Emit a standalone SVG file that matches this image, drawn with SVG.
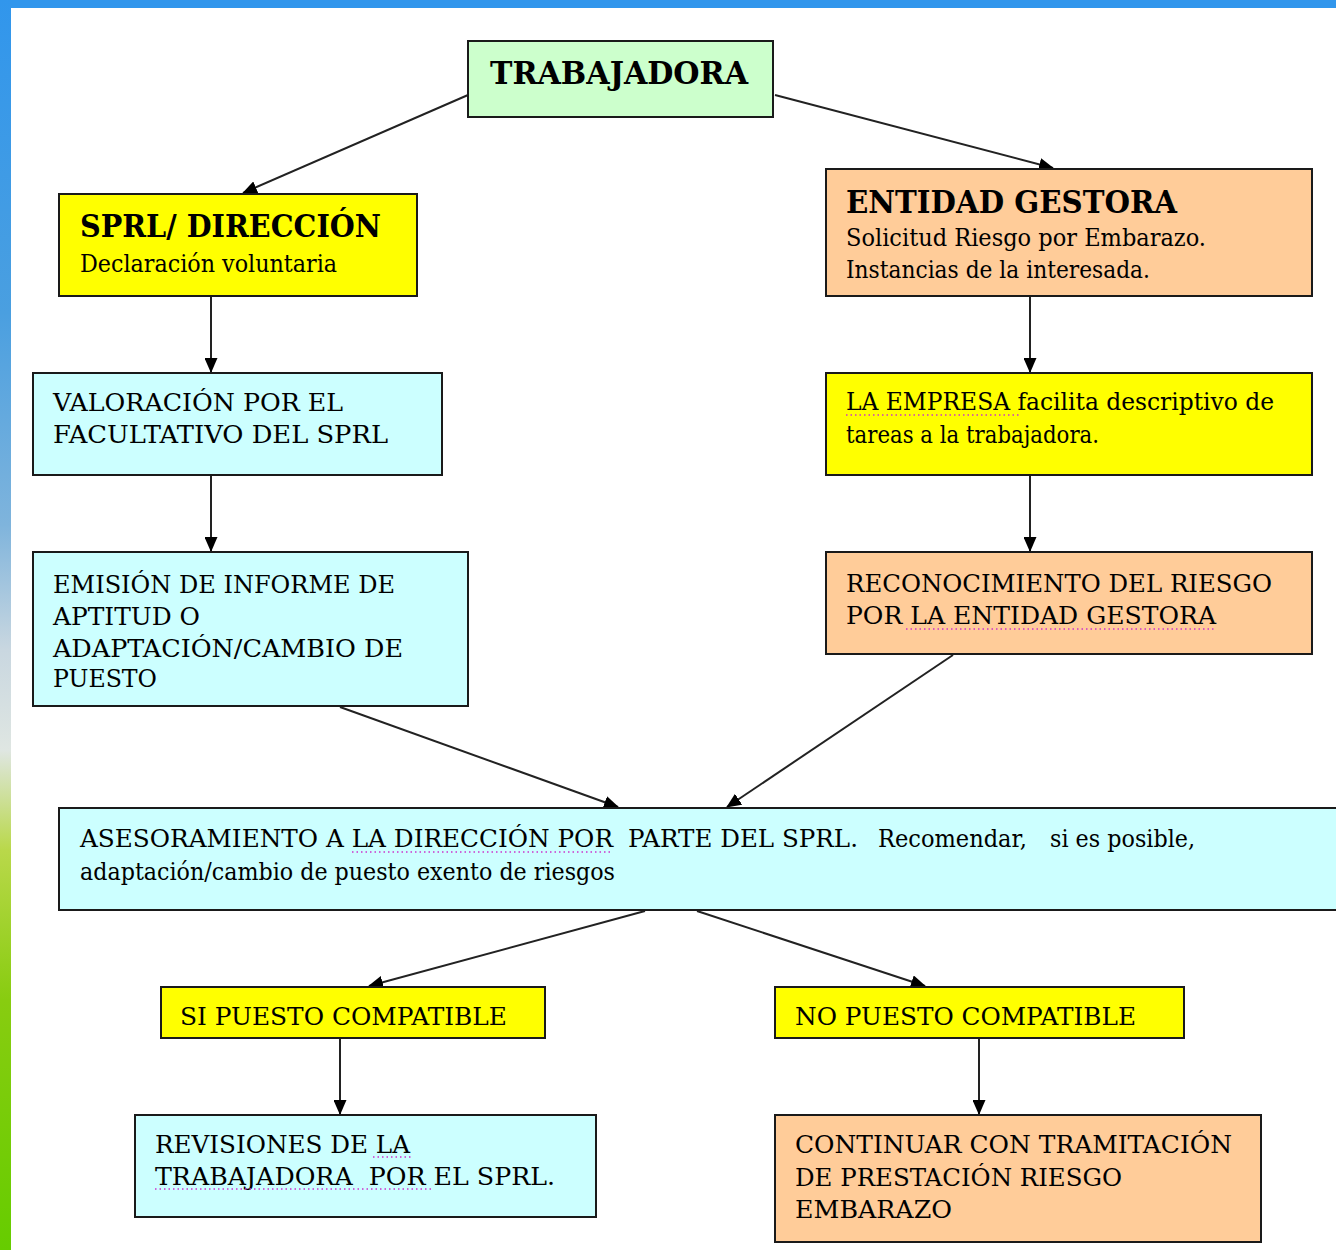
<svg xmlns="http://www.w3.org/2000/svg" width="1336" height="1250" viewBox="0 0 1336 1250">
<defs>
<linearGradient id="side" x1="0" y1="0" x2="0" y2="1">
<stop offset="0" stop-color="#3196ec"/>
<stop offset="0.25" stop-color="#4a9fe0"/>
<stop offset="0.42" stop-color="#7fb4dc"/>
<stop offset="0.52" stop-color="#c9d7e0"/>
<stop offset="0.6" stop-color="#dfe6e2"/>
<stop offset="0.68" stop-color="#b9d84a"/>
<stop offset="0.8" stop-color="#88cc10"/>
<stop offset="1" stop-color="#66cc00"/>
</linearGradient>
<marker id="arr" markerUnits="userSpaceOnUse" markerWidth="15" markerHeight="13" refX="14" refY="6.5" orient="auto">
<path d="M0,0 L15,6.5 L0,13 z" fill="#000"/>
</marker>
<style>
.box{stroke:#1a1a1a;stroke-width:2}
.g{fill:#ccffcc}.y{fill:#ffff00}.o{fill:#ffcc99}.c{fill:#ccffff}
text{font-family:"DejaVu Serif","Liberation Serif",serif;font-size:24px;fill:#000}
.h{font-weight:bold;font-size:31px}
.con line{stroke:#222;stroke-width:2;marker-end:url(#arr)}
.sp{stroke:#cc33cc;stroke-width:1.5;stroke-dasharray:1.5 3;fill:none}
</style>
</defs>
<rect x="0" y="0" width="1336" height="1250" fill="#ffffff"/>
<rect x="0" y="0" width="1336" height="8" fill="#3196ec"/>
<rect x="0" y="0" width="11" height="1250" fill="url(#side)"/>

<g class="con">
<line x1="468" y1="95" x2="243" y2="193"/>
<line x1="775" y1="95" x2="1053" y2="168"/>
<line x1="211" y1="297" x2="211" y2="372"/>
<line x1="211" y1="476" x2="211" y2="551"/>
<line x1="1030" y1="297" x2="1030" y2="372"/>
<line x1="1030" y1="476" x2="1030" y2="551"/>
<line x1="340" y1="707" x2="618" y2="807"/>
<line x1="953" y1="655" x2="727" y2="807"/>
<line x1="645" y1="911" x2="369" y2="986"/>
<line x1="697" y1="911" x2="925" y2="986"/>
<line x1="340" y1="1039" x2="340" y2="1114"/>
<line x1="979" y1="1039" x2="979" y2="1114"/>
</g>

<g id="trabajadora">
<rect class="box g" x="468" y="41" width="305" height="76"/>
<text class="h" x="490" y="84" textLength="258" lengthAdjust="spacingAndGlyphs">TRABAJADORA</text>
</g>

<g id="sprl">
<rect class="box y" x="59" y="194" width="358" height="102"/>
<text class="h" x="80" y="237" textLength="301" lengthAdjust="spacingAndGlyphs">SPRL/ DIRECCIÓN</text>
<text x="80" y="272" textLength="257" lengthAdjust="spacingAndGlyphs">Declaración voluntaria</text>
</g>

<g id="entidad">
<rect class="box o" x="826" y="169" width="486" height="127"/>
<text class="h" x="846" y="213" textLength="331" lengthAdjust="spacingAndGlyphs">ENTIDAD GESTORA</text>
<text x="846" y="246" textLength="360" lengthAdjust="spacingAndGlyphs">Solicitud Riesgo por Embarazo.</text>
<text x="846" y="278" textLength="304" lengthAdjust="spacingAndGlyphs">Instancias de la interesada.</text>
</g>

<g id="valoracion">
<rect class="box c" x="33" y="373" width="409" height="102"/>
<text x="53" y="411" textLength="290" lengthAdjust="spacingAndGlyphs">VALORACIÓN POR EL</text>
<text x="53" y="443" textLength="335" lengthAdjust="spacingAndGlyphs">FACULTATIVO DEL SPRL</text>
</g>

<g id="empresa">
<rect class="box y" x="826" y="373" width="486" height="102"/>
<text x="846" y="410" textLength="428" lengthAdjust="spacingAndGlyphs">LA EMPRESA facilita descriptivo de</text>
<text x="846" y="443" textLength="253" lengthAdjust="spacingAndGlyphs">tareas a la trabajadora.</text>
<path class="sp" d="M846,415 H1020"/>
</g>

<g id="emision">
<rect class="box c" x="33" y="552" width="435" height="154"/>
<text x="53" y="593" textLength="342" lengthAdjust="spacingAndGlyphs">EMISIÓN DE INFORME DE</text>
<text x="53" y="625" textLength="147" lengthAdjust="spacingAndGlyphs">APTITUD O</text>
<text x="53" y="657" textLength="350" lengthAdjust="spacingAndGlyphs">ADAPTACIÓN/CAMBIO DE</text>
<text x="53" y="687" textLength="104" lengthAdjust="spacingAndGlyphs">PUESTO</text>
</g>

<g id="reconocimiento">
<rect class="box o" x="826" y="552" width="486" height="102"/>
<text x="846" y="592" textLength="426" lengthAdjust="spacingAndGlyphs">RECONOCIMIENTO DEL RIESGO</text>
<text x="846" y="624" textLength="370" lengthAdjust="spacingAndGlyphs">POR LA ENTIDAD GESTORA</text>
<path class="sp" d="M906,629 H1215"/>
</g>

<g id="asesoramiento">
<rect class="box c" x="59" y="808" width="1290" height="102"/>
<text x="80" y="847" textLength="533" lengthAdjust="spacingAndGlyphs">ASESORAMIENTO A LA DIRECCIÓN POR</text>
<text x="628" y="847" textLength="230" lengthAdjust="spacingAndGlyphs">PARTE DEL SPRL.</text>
<text x="878" y="847" textLength="149" lengthAdjust="spacingAndGlyphs">Recomendar,</text>
<text x="1050" y="847" textLength="145" lengthAdjust="spacingAndGlyphs">si es posible,</text>
<text x="80" y="880" textLength="535" lengthAdjust="spacingAndGlyphs">adaptación/cambio de puesto exento de riesgos</text>
<path class="sp" d="M352,852 H613"/>
</g>

<g id="si">
<rect class="box y" x="161" y="987" width="384" height="51"/>
<text x="180" y="1025" textLength="327" lengthAdjust="spacingAndGlyphs">SI PUESTO COMPATIBLE</text>
</g>

<g id="no">
<rect class="box y" x="775" y="987" width="409" height="51"/>
<text x="795" y="1025" textLength="341" lengthAdjust="spacingAndGlyphs">NO PUESTO COMPATIBLE</text>
</g>

<g id="revisiones">
<rect class="box c" x="135" y="1115" width="461" height="102"/>
<text x="155" y="1153" textLength="255" lengthAdjust="spacingAndGlyphs">REVISIONES DE LA</text>
<text x="155" y="1185" textLength="400" lengthAdjust="spacingAndGlyphs" xml:space="preserve">TRABAJADORA  POR EL SPRL.</text>
<path class="sp" d="M373,1157 H413 M155,1189 H432"/>
</g>

<g id="continuar">
<rect class="box o" x="775" y="1115" width="486" height="127"/>
<text x="795" y="1153" textLength="437" lengthAdjust="spacingAndGlyphs">CONTINUAR CON TRAMITACIÓN</text>
<text x="795" y="1186" textLength="327" lengthAdjust="spacingAndGlyphs">DE PRESTACIÓN RIESGO</text>
<text x="795" y="1218" textLength="157" lengthAdjust="spacingAndGlyphs">EMBARAZO</text>
</g>
</svg>
